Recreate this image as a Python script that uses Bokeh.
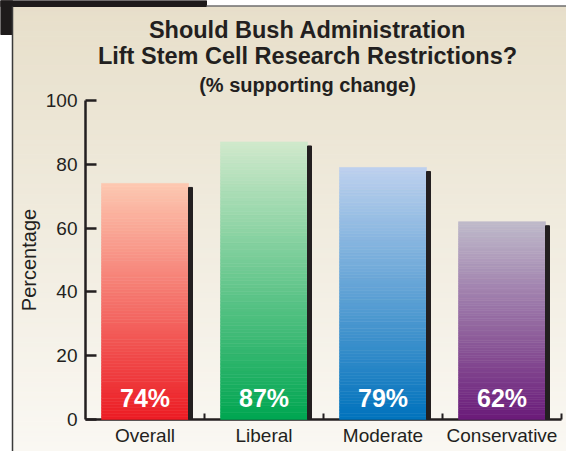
import numpy as np
from bokeh.plotting import figure
from bokeh.models import Range1d, LinearAxis, FixedTicker, Label
from bokeh.core.properties import value
from bokeh.embed import file_html
from bokeh.resources import INLINE

# ---------------- data ----------------
categories = ["Overall", "Liberal", "Moderate", "Conservative"]
support = [74, 87, 79, 62]
bar_labels = [f"{v}%" for v in support]
y_ticks = [0, 20, 40, 60, 80, 100]
title_lines = ["Should Bush Administration",
               "Lift Stem Cell Research Restrictions?",
               "(% supporting change)"]
y_label = "Percentage"

# ---------------- style ----------------
top_colors = ["#fdc8b1", "#d0e9cc", "#bed1ee", "#bfbacb"]
bottom_colors = ["#ec1c24", "#00a651", "#0072bc", "#6a1b79"]
INK = "#231f20"
FONT = "Liberation Sans"

W, H = 566, 451
AX_X, CAT_PX = 85, 119      # pixel x of category 0 boundary, px per category
AX_Y, UNIT_PX = 419, 3.19   # pixel y of value 0, px per percent


def dx(px):
    return (px - AX_X) / CAT_PX


def dy(py):
    return (AX_Y - py) / UNIT_PX


def hex2rgb(h):
    h = h.lstrip("#")
    return np.array([int(h[i:i + 2], 16) for i in (0, 2, 4)], dtype=float)


def mix(c0, c1, t):
    a, b = hex2rgb(c0), hex2rgb(c1)
    c = a + (b - a) * t
    return "#%02x%02x%02x" % tuple(int(round(v)) for v in c)


p = figure(width=W, height=H, output_backend="svg", toolbar_location=None,
           x_range=Range1d(dx(0), dx(W)), y_range=Range1d(dy(H), dy(0)),
           x_axis_location=None, y_axis_location=None, min_border=0)
p.title.visible = False
p.grid.visible = False
p.outline_line_color = None
p.background_fill_color = "white"
p.border_fill_color = "white"

# ---------------- panel background ----------------
nb = 90
edges = np.linspace(6, H, nb + 1)
bg_cols = [mix("#e7dfca", "#faf8f3", (i + 0.5) / nb) for i in range(nb)]
p.quad(left=dx(12), right=dx(W), top=[dy(e) for e in edges[:-1]],
       bottom=[dy(e) for e in edges[1:]], fill_color=bg_cols,
       line_color=bg_cols, line_width=1, level="image")
# dark corner decoration
p.quad(left=[dx(0), dx(0)], right=[dx(206), dx(12)], top=[dy(0), dy(0)],
       bottom=[dy(6), dy(34)], color="#1e1b1b", level="image")
# panel border lines
p.segment(x0=[dx(206), dx(12)], y0=[dy(5.5), dy(6)], x1=[dx(W), dx(12)],
          y1=[dy(5.5), dy(H)], line_color=["#6e6e6e", "#3a3a3a"],
          line_width=1.5, level="image")

# ---------------- bars (gradient slices) ----------------
N = 80
hw = 87 / CAT_PX / 2
lefts, rights, tops, bottoms, cols = [], [], [], [], []
for i, v in enumerate(support):
    c = i + 0.5
    for k in range(N):
        t = (k + 0.5) / N
        lefts.append(c - hw)
        rights.append(c + hw)
        bottoms.append(v * k / N)
        tops.append(v * (k + 1) / N)
        cols.append(mix(bottom_colors[i], top_colors[i], t))
p.quad(left=lefts, right=rights, top=tops, bottom=bottoms,
       fill_color=cols, line_color=cols, line_width=0.6)

# shadows
centers = [i + 0.5 for i in range(len(categories))]
p.quad(left=[c + hw for c in centers], right=[c + hw + 4 / CAT_PX for c in centers],
       top=[v - 4 / UNIT_PX for v in support], bottom=0, color=INK)

# value labels
p.text(x=centers, y=[dy(397)] * len(centers), text=bar_labels,
       text_font=value(FONT), text_font_style="bold", text_font_size="25px",
       text_color="white", text_align="center", text_baseline="alphabetic")

# ---------------- axes ----------------
yax = LinearAxis(fixed_location=0, ticker=FixedTicker(ticks=y_ticks), bounds=(0, 100),
                 axis_label=y_label)
yax.axis_line_color = INK
yax.axis_line_width = 2.5
yax.major_tick_line_color = INK
yax.major_tick_line_width = 2.5
yax.major_tick_in = 11
yax.major_tick_out = 0
yax.minor_tick_line_color = None
yax.major_label_standoff = 8
yax.major_label_text_font = FONT
yax.major_label_text_font_size = "19px"
yax.major_label_text_color = INK
yax.axis_label_text_font = FONT
yax.axis_label_text_font_size = "20px"
yax.axis_label_text_font_style = "normal"
yax.axis_label_text_color = INK
yax.axis_label_standoff = 3
yax.level = "underlay"
p.add_layout(yax, "left")

boundaries = [1, 2, 3, 4]
xax = LinearAxis(fixed_location=0, ticker=FixedTicker(ticks=boundaries),
                 bounds=(0, len(categories)),
                 major_label_overrides={b: "" for b in boundaries})
xax.axis_line_color = INK
xax.axis_line_width = 2.5
xax.major_tick_line_color = INK
xax.major_tick_line_width = 2
xax.major_tick_in = 6
xax.major_tick_out = 0
xax.minor_tick_line_color = None
xax.level = "underlay"
p.add_layout(xax, "below")

cax = LinearAxis(fixed_location=0, ticker=FixedTicker(ticks=centers),
                 major_label_overrides={c: n for c, n in zip(centers, categories)})
cax.axis_line_color = None
cax.major_tick_line_color = None
cax.minor_tick_line_color = None
cax.major_tick_in = 0
cax.major_tick_out = 0
cax.major_label_standoff = 5
cax.major_label_text_font = FONT
cax.major_label_text_font_size = "19px"
cax.major_label_text_color = INK
p.add_layout(cax, "below")

# ---------------- titles ----------------
for txt, base, size in zip(title_lines, [29, 55, 84], ["23.5px", "23.5px", "20px"]):
    p.add_layout(Label(x=dx(307), y=dy(base), text=txt, text_align="center",
                       text_baseline="alphabetic", text_font=FONT,
                       text_font_style="bold", text_font_size=size, text_color=INK))

open("out.html", "w").write(file_html(p, INLINE))
